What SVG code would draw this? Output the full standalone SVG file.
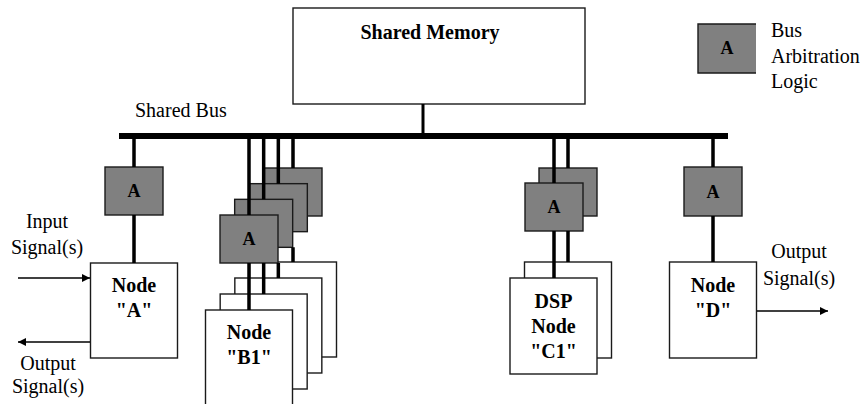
<svg xmlns="http://www.w3.org/2000/svg" width="863" height="404" viewBox="0 0 863 404">
  <style>
    text { font-family: "Liberation Serif", "Times New Roman", serif; fill: #000; }
    .lbl { font-size: 20px; }
    .bold { font-size: 20px; font-weight: bold; text-anchor: middle; }
    .arb-t { font-size: 18px; font-weight: bold; text-anchor: middle; }
    .arb { fill: #808080; stroke: #1a1a1a; stroke-width: 1.4; }
    .node { fill: #fff; stroke: #1a1a1a; stroke-width: 1.4; }
    .link { stroke: #000; stroke-width: 3.5; fill: none; }
    .sig { stroke: #000; stroke-width: 1.3; fill: none; }
  </style>
  <defs>
    <marker id="arrow" viewBox="0 0 10 10" refX="10" refY="5" markerWidth="10" markerHeight="8" markerUnits="userSpaceOnUse" orient="auto">
      <path d="M0,0 L10,5 L0,10 z" fill="#000"/>
    </marker>
  </defs>

  <!-- shared memory -->
  <g id="shared-memory">
    <rect class="node" x="293" y="8" width="292" height="96"/>
    <text class="bold" x="430" y="39">Shared Memory</text>
  </g>

  <!-- legend -->
  <g id="legend">
    <rect x="698" y="24" width="58" height="49" fill="#808080"/>
    <path d="M756,24 H698 V73 H756" fill="none" stroke="#1a1a1a" stroke-width="1.4"/>
    <text class="arb-t" x="727" y="54">A</text>
    <text class="lbl" x="771" y="37">Bus</text>
    <text class="lbl" x="771" y="63">Arbitration</text>
    <text class="lbl" x="771" y="88">Logic</text>
  </g>

  <text id="bus-label" class="lbl" x="135" y="117">Shared Bus</text>

  <!-- node A -->
  <g id="node-a">
    <rect class="arb" x="105" y="167" width="58" height="48"/>
    <text class="arb-t" x="134" y="197">A</text>
    <rect class="node" x="90.5" y="263" width="87" height="95"/>
    <text class="bold" x="134" y="292">Node</text>
    <text class="bold" x="134" y="317">"A"</text>
  </g>

  <!-- node B stack, back to front -->
  <g id="node-b4">
    <rect class="arb" x="264" y="168" width="58" height="48"/>
    <text class="arb-t" x="293" y="198">A</text>
    <rect class="node" x="249.5" y="262" width="87" height="95"/>
  </g>
  <g id="node-b3">
    <rect class="arb" x="249.33" y="183.67" width="58" height="48"/>
    <text class="arb-t" x="278.33" y="213.67">A</text>
    <rect class="node" x="234.83" y="278" width="87" height="95"/>
  </g>
  <g id="node-b2">
    <rect class="arb" x="234.67" y="199.33" width="58" height="48"/>
    <text class="arb-t" x="263.67" y="229.33">A</text>
    <rect class="node" x="220.17" y="294" width="87" height="95"/>
  </g>
  <g id="node-b1">
    <rect class="arb" x="220" y="215" width="58" height="48"/>
    <text class="arb-t" x="249" y="245">A</text>
    <rect class="node" x="205.5" y="310" width="87" height="100"/>
    <text class="bold" x="249" y="339">Node</text>
    <text class="bold" x="249" y="364">"B1"</text>
  </g>

  <!-- node C stack, back to front -->
  <g id="node-c2">
    <rect class="arb" x="539" y="168" width="58" height="48"/>
    <text class="arb-t" x="568" y="198">A</text>
    <rect class="node" x="524.5" y="262" width="87" height="96"/>
  </g>
  <g id="node-c1">
    <rect class="arb" x="525" y="183" width="58" height="48"/>
    <text class="arb-t" x="554" y="213">A</text>
    <rect class="node" x="510" y="278" width="87" height="96"/>
    <text class="bold" x="553.5" y="308">DSP</text>
    <text class="bold" x="553.5" y="333">Node</text>
    <text class="bold" x="553.5" y="358">"C1"</text>
  </g>

  <!-- node D -->
  <g id="node-d">
    <rect class="arb" x="684" y="167" width="58" height="49"/>
    <text class="arb-t" x="713" y="198">A</text>
    <rect class="node" x="669.5" y="262" width="87" height="96"/>
    <text class="bold" x="713" y="292">Node</text>
    <text class="bold" x="713" y="317">"D"</text>
  </g>

  <!-- bus, links and signal arrows (only the visible runs of each link) -->
  <g id="connectors">
    <rect x="119" y="133" width="609" height="6" fill="#000"/>
    <line x1="423" y1="104" x2="423" y2="134" stroke="#000" stroke-width="3"/>
    <path class="link" d="M134,139 V167 M134,215 V263"/>
    <path class="link" d="M249,139 V215 M249,263 V310"/>
    <path class="link" d="M263.67,139 V199.33 M263.67,263 V294"/>
    <path class="link" d="M278.33,139 V183.67 M278.33,263 V278"/>
    <path class="link" d="M293,139 V168 M293,247.33 V262"/>
    <path class="link" d="M554,139 V183 M554,231 V278"/>
    <path class="link" d="M568,139 V168 M568,231 V262"/>
    <path class="link" d="M713,139 V167 M713,216 V262"/>
    <line class="sig" x1="18" y1="278" x2="90" y2="278" marker-end="url(#arrow)"/>
    <line class="sig" x1="90" y1="342" x2="18" y2="342" marker-end="url(#arrow)"/>
    <line class="sig" x1="757" y1="311" x2="828" y2="311" marker-end="url(#arrow)"/>
  </g>

  <g id="signal-labels">
    <text class="lbl" x="47" y="228" text-anchor="middle">Input</text>
    <text class="lbl" x="47" y="254" text-anchor="middle">Signal(s)</text>
    <text class="lbl" x="48" y="370" text-anchor="middle">Output</text>
    <text class="lbl" x="48" y="393" text-anchor="middle">Signal(s)</text>
    <text class="lbl" x="799" y="258" text-anchor="middle">Output</text>
    <text class="lbl" x="799" y="285" text-anchor="middle">Signal(s)</text>
  </g>
</svg>
